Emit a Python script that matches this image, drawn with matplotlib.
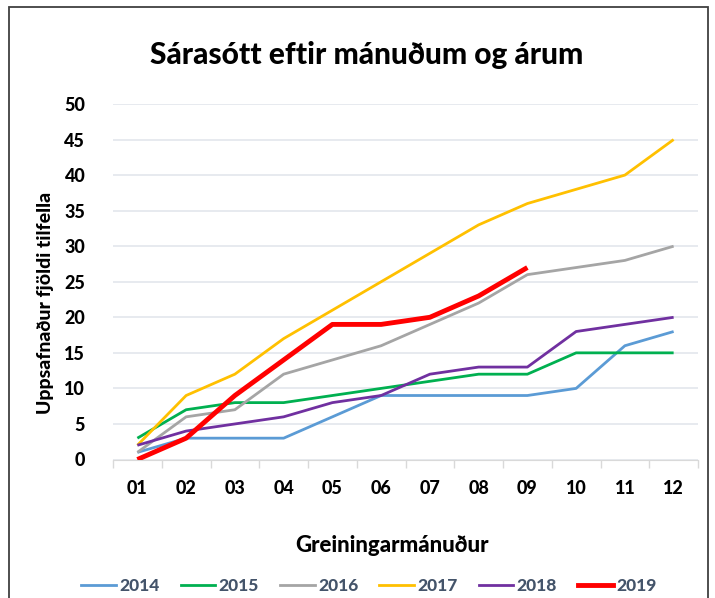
import matplotlib
matplotlib.use("Agg")
import matplotlib.pyplot as plt
from matplotlib.patches import Rectangle
from matplotlib.lines import Line2D

months = ["01", "02", "03", "04", "05", "06", "07", "08", "09", "10", "11", "12"]
years = ["2014", "2015", "2016", "2017", "2018", "2019"]
v2014 = [1, 3, 3, 3, 6, 9, 9, 9, 9, 10, 16, 18]
v2015 = [3, 7, 8, 8, 9, 10, 11, 12, 12, 15, 15, 15]
v2016 = [1, 6, 7, 12, 14, 16, 19, 22, 26, 27, 28, 30]
v2017 = [2, 9, 12, 17, 21, 25, 29, 33, 36, 38, 40, 45]
v2018 = [2, 4, 5, 6, 8, 9, 12, 13, 13, 18, 19, 20]
v2019 = [0, 3, 9, 14, 19, 19, 20, 23, 27]
series = [v2014, v2015, v2016, v2017, v2018, v2019]
colors = ["#5B9BD5", "#00B050", "#A5A5A5", "#FFC000", "#7030A0", "#FF0000"]
widths = [2.0, 2.0, 2.0, 2.0, 2.0, 3.5]
yticks = [0, 5, 10, 15, 20, 25, 30, 35, 40, 45, 50]

plt.rcParams['font.family'] = ['Lato', 'DejaVu Sans']
BW = 900

W, H = 715, 598
fig = plt.figure(figsize=(W / 100, H / 100), dpi=100)
ax = fig.add_axes([113 / W, 1 - 459.5 / H, (698 - 113) / W, (459.5 - 104) / H])

x = list(range(1, len(months) + 1))
for vals, c, lw, lab in zip(series, colors, widths, years):
    ax.plot(x[:len(vals)], vals, color=c, lw=lw, label=lab, solid_capstyle='butt', zorder=3)

ax.set_xlim(0.5, 12.5)
ax.set_ylim(0, 50)
ax.set_yticks(yticks)
ax.set_yticklabels([str(t) for t in yticks], fontsize=13, fontweight=BW)
ax.set_xticks(x)
ax.set_xticklabels(months, fontsize=13, fontweight=BW)
ax.set_xticks([i + 0.5 for i in range(0, 13)], minor=True)
ax.tick_params(axis='x', which='major', length=0, pad=15)
ax.tick_params(axis='x', which='minor', length=6, color='#D9D9D9', width=1)
ax.tick_params(axis='y', length=0, pad=20)
ax.grid(axis='y', color='#E3E6EC', lw=1.2)
ax.set_axisbelow(True)
for s in ['top', 'right', 'left']:
    ax.spines[s].set_visible(False)
ax.spines['bottom'].set_color('#D9D9D9')

fig.text(367 / W, 1 - 55 / H, "Sárasótt eftir mánuðum og árum", ha='center', va='center',
         fontsize=21.5, fontweight=BW)
fig.text(45 / W, 1 - 303 / H, "Uppsafnaður fjöldi tilfella", ha='center', va='center',
         rotation=90, fontsize=14, fontweight=BW)
fig.text(392 / W, 1 - 545 / H, "Greiningarmánuður", ha='center', va='center',
         fontsize=16, fontweight=BW)

handles = [Line2D([0], [0], color=c, lw=lw) for c, lw in zip(colors, widths)]
leg = fig.legend(handles, years, loc='center', bbox_to_anchor=(369 / W, 1 - 586 / H), ncol=6,
                 frameon=False, handlelength=2.0, handletextpad=0.2, columnspacing=1.2,
                 prop={'weight': BW, 'size': 12.5})
for t in leg.get_texts():
    t.set_color('#44546A')

fig.patches.append(Rectangle((8.5 / W, -0.05), (708 - 8.5) / W, 1.05 - 7.5 / H,
                             transform=fig.transFigure, fill=False, edgecolor='#404040', lw=1.3))

fig.savefig("out.png", dpi=100)
